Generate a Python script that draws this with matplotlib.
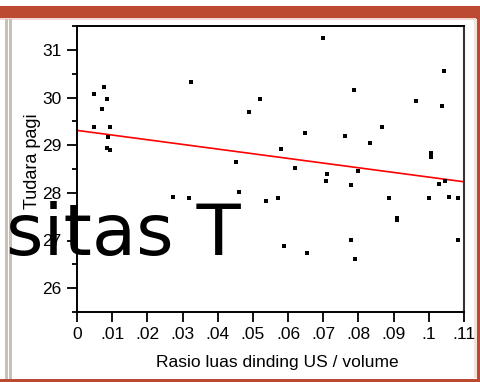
import matplotlib
matplotlib.use('Agg')
import matplotlib.pyplot as plt
from matplotlib.patches import Rectangle

# values
ratio = [0.0077, 0.0048, 0.0084, 0.0071, 0.0048, 0.0094, 0.0089, 0.0084, 0.0094,
         0.0323, 0.0519, 0.0488, 0.0698, 0.1042, 0.0786, 0.0964, 0.1037, 0.0868,
         0.0648, 0.0580, 0.0452, 0.0620, 0.0460, 0.0272, 0.0318, 0.0538, 0.0570,
         0.0588, 0.0653, 0.0762, 0.0832, 0.1005, 0.1005, 0.0712, 0.0707, 0.0799,
         0.0780, 0.1028, 0.1046, 0.0886, 0.1000, 0.1056, 0.1082, 0.0909, 0.0909,
         0.0780, 0.1082, 0.0790]
tudara = [30.23, 30.07, 29.96, 29.76, 29.39, 29.39, 29.17, 28.94, 28.89,
          30.33, 29.96, 29.69, 31.24, 30.56, 30.16, 29.93, 29.83, 29.39,
          29.26, 28.93, 28.65, 28.52, 28.02, 27.92, 27.89, 27.82, 27.89,
          26.88, 26.73, 29.20, 29.05, 28.83, 28.76, 28.39, 28.25, 28.45,
          28.16, 28.19, 28.25, 27.89, 27.89, 27.92, 27.89, 27.48, 27.42,
          27.02, 27.02, 26.62]
fit_intercept = 29.31
fit_slope = -9.8

x_ticks = [0, 0.01, 0.02, 0.03, 0.04, 0.05, 0.06, 0.07, 0.08, 0.09, 0.1, 0.11]
x_ticklabels = ['0', '.01', '.02', '.03', '.04', '.05', '.06', '.07', '.08', '.09', '.1', '.11']
y_ticks = [26, 27, 28, 29, 30, 31]
y_minor = [25.5, 26.5, 27.5, 28.5, 29.5, 30.5, 31.5]

W, H = 480, 382
plt.rcParams['font.family'] = ['Liberation Sans', 'DejaVu Sans']

fig = plt.figure(figsize=(W / 100, H / 100), dpi=100)
fig.patch.set_facecolor('white')


def px_rect(x0, y0, x1, y1, color):
    # rectangle given in pixel coords measured from the top-left corner
    fig.add_artist(Rectangle((x0 / W, 1 - y1 / H), (x1 - x0) / W, (y1 - y0) / H,
                             transform=fig.transFigure, facecolor=color,
                             edgecolor='none', zorder=-5))


# slide frame
red = '#BC4A33'
px_rect(0, 6.5, 480, 18.5, red)
px_rect(0, 18.5, 476, 20, '#F2D8D2')
px_rect(476.5, 6.5, 480, 382, red)
px_rect(474, 20, 476.5, 378, '#F4E2DE')
px_rect(0, 378.5, 480, 382, red)
px_rect(5, 18.5, 7.5, 378.5, '#C9C2B4')
px_rect(9, 18.5, 11.7, 378.5, '#C9C2B4')

ax = fig.add_axes([77 / W, 1 - 312 / H, (464 - 77) / W, (312 - 26) / H])
ax.scatter(ratio, tudara, marker='s', s=5, color='black', linewidths=0, zorder=3)
ax.plot([0, 0.11], [fit_intercept, fit_intercept + fit_slope * 0.11],
        color='#FF0000', lw=1.2, zorder=2)

ax.set_xlim(0, 0.11)
ax.set_ylim(25.5, 31.5)
ax.set_xticks(x_ticks)
ax.set_xticklabels(x_ticklabels)
ax.set_yticks(y_ticks)
ax.set_yticks(y_minor, minor=True)
ax.tick_params(axis='both', which='major', length=7, width=1.3, labelsize=12.5,
               pad=4, direction='out')
ax.tick_params(axis='y', which='minor', length=3.8, width=1.3)
for side in ['left', 'bottom', 'top']:
    ax.spines[side].set_linewidth(1.4)
    ax.spines[side].set_color('black')
ax.spines['right'].set_linewidth(1.5)
ax.spines['right'].set_color('#333333')

fig.text(277 / W, 1 - 362 / H, 'Rasio luas dinding US / volume', ha='center',
         va='center', fontsize=12.5)
fig.text(32.5 / W, 1 - 161 / H, 'Tudara pagi', rotation=90, ha='center',
         va='center', fontsize=13)

# large stray text overlaid on the chart
fig.text(6 / W, 1 - 255 / H, 'sitas T', ha='left', va='baseline', fontsize=52,
         family='DejaVu Sans', color='black', zorder=10)

fig.savefig('out.png', dpi=100)
